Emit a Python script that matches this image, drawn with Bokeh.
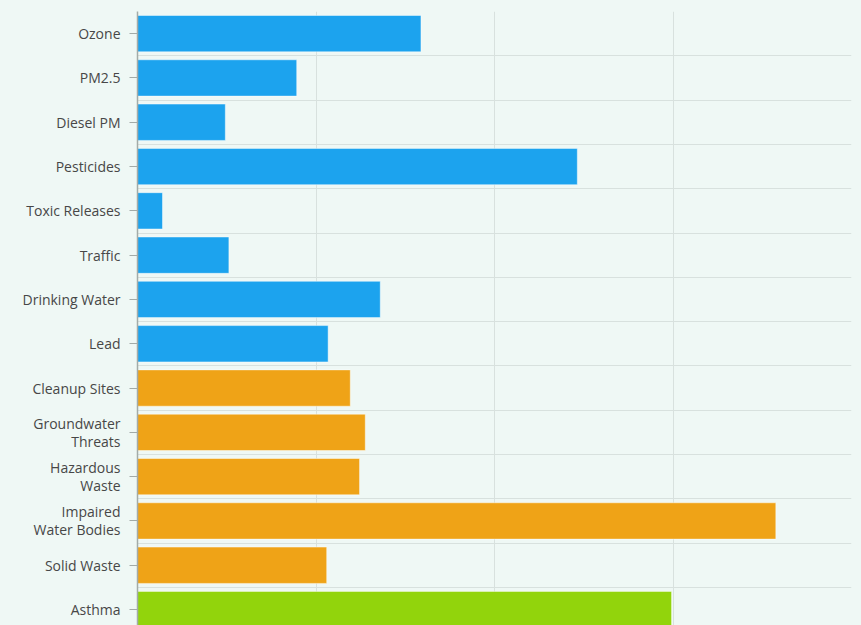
from bokeh.plotting import figure
from bokeh.models import ColumnDataSource, Range1d, FixedTicker, GlobalInlineStyleSheet
from bokeh.embed import file_html
from bokeh.resources import INLINE

categories = ["Ozone", "PM2.5", "Diesel PM", "Pesticides", "Toxic Releases", "Traffic",
              "Drinking Water", "Lead", "Cleanup Sites", "Groundwater\nThreats",
              "Hazardous\nWaste", "Impaired\nWater Bodies", "Solid Waste", "Asthma"]
values = [39.7, 22.3, 12.3, 61.6, 3.5, 12.8, 34.0, 26.7, 29.8, 31.9, 31.1, 89.4, 26.5, 74.8]
groups = ["exposure"] * 8 + ["environment"] * 5 + ["health"]
group_colors = {"exposure": "#1ca3ee", "environment": "#efa317", "health": "#92d40c"}
x_ticks = [0, 25, 50, 75, 100]

BG = "#eff8f5"
ys = list(range(len(categories)))
src = ColumnDataSource(dict(y=ys, value=values, color=[group_colors[g] for g in groups]))

p = figure(width=861, height=625, output_backend="svg", toolbar_location=None,
           x_range=Range1d(0, 100), y_range=Range1d(13.36, -0.5),
           min_border_left=137, min_border_right=10, min_border_top=11, min_border_bottom=0)
p.background_fill_color = BG
p.border_fill_color = BG
p.outline_line_color = None

p.hbar(y="y", left=0, right="value", height=0.82, fill_color="color",
       line_color="white", line_alpha=0.45, line_width=1, source=src)

p.xaxis.visible = False
p.xgrid.ticker = FixedTicker(ticks=x_ticks)
p.xgrid.grid_line_color = "#d8e1de"
p.ygrid.ticker = FixedTicker(ticks=[i - 0.5 for i in range(len(categories) + 1)])
p.ygrid.grid_line_color = "#d8e1de"

yax = p.yaxis[0]
yax.ticker = FixedTicker(ticks=ys)
yax.major_label_overrides = {i: c for i, c in enumerate(categories)}
yax.major_tick_out = 8
yax.major_tick_in = 0
yax.minor_tick_out = 0
yax.minor_tick_in = 0
yax.major_tick_line_color = "#a3aba8"
yax.axis_line_color = "#a3aba8"
yax.axis_line_width = 1.5
yax.major_label_standoff = 9
yax.major_label_text_font = "Open Sans"
yax.major_label_text_font_size = "14px"
yax.major_label_text_color = "#474747"
yax.major_label_text_line_height = 0.95

p.stylesheets = [GlobalInlineStyleSheet(
    css="html, body { background: %s; margin: 0; padding: 0; overflow: hidden; }" % BG)]

open("out.html", "w").write(file_html(p, INLINE))
